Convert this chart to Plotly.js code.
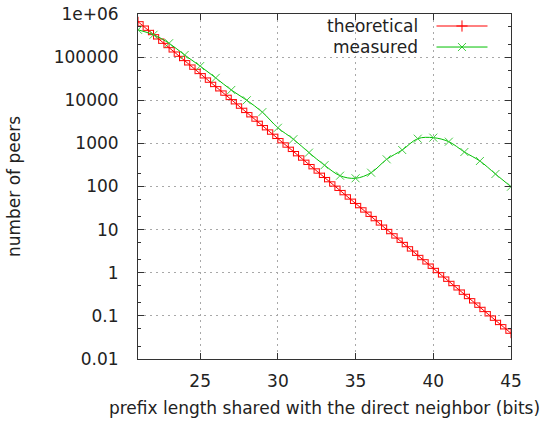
<!DOCTYPE html>
<html>
<head>
<meta charset="utf-8">
<script src="https://cdn.plot.ly/plotly-3.0.1.min.js"></script>
<style>html,body{margin:0;padding:0;background:#fff;}#chart{width:542px;height:422px;}</style>
</head>
<body>
<div id="chart"></div>
<script>
// Theoretical curve (sampled every 1/3 bit)
var theoX = [21,21.33,21.67,22,22.33,22.67,23,23.33,23.67,24,24.33,24.67,25,25.33,25.67,26,26.33,26.67,27,27.33,27.67,28,28.33,28.67,29,29.33,29.67,30,30.33,30.67,31,31.33,31.67,32,32.33,32.67,33,33.33,33.67,34,34.33,34.67,35,35.33,35.67,36,36.33,36.67,37,37.33,37.67,38,38.33,38.67,39,39.33,39.67,40,40.33,40.67,41,41.33,41.67,42,42.33,42.67,43,43.33,43.67,44,44.33,44.67,45];
var theoY = [663000,526224,417664,331500,263112,208832,165750,131556,104416,82875,65778,52208,41438,32889,26104,20719,16445,13052,10359,8222,6526,5180,4111,3263,2590,2056,1631,1295,1028,815.7,647.5,513.9,407.9,323.7,256.9,203.9,161.9,128.5,102.0,80.93,64.24,50.98,40.47,32.12,25.49,20.23,16.06,12.75,10.12,8.03,6.37,5.058,4.015,3.186,2.529,2.007,1.593,1.265,1.004,0.7966,0.6323,0.5019,0.3983,0.3162,0.2509,0.1992,0.1581,0.1255,0.0996,0.0790,0.0627,0.0498,0.0395];
// Measured values
var measX = [21,22,23,24,25,26,27,28,29,30,31,32,33,34,35,36,37,38,39,40,41,42,43,44,45];
var measY = [430000,330000,210000,112000,62000,33000,17300,10000,5300,2300,1250,610,312,178,155,209,427,702,1285,1356,1094,631,390,195,99];
// Axis ticks
var xTicks = [25,30,35,40,45];
var yTickVals = [1e6,1e5,1e4,1e3,100,10,1,0.1,0.01];
var yTickText = ["1e+06","100000","10000","1000","100","10","1","0.1","0.01"];
var yMinorVals = [0.02,0.05,0.2,0.5,2,5,20,50,200,500,2000,5000,20000,50000,200000,500000];
var seriesNames = ["theoretical","measured"];

var RED = "#ff0000", GREEN = "#00c000", LIGHTGREEN = "#44cc44", TXT = "#222222";

var traces = [
  {x: theoX, y: theoY, type: "scatter", mode: "lines+markers", name: seriesNames[0],
   line: {color: RED, width: 1}, marker: {symbol: "cross-thin", size: 7, line: {color: RED, width: 1}, color: RED},
   showlegend: false, hoverinfo: "x+y"},
  {x: measX, y: measY, type: "scatter", mode: "lines+markers", name: seriesNames[1],
   line: {color: GREEN, width: 1, shape: "spline", smoothing: 1}, marker: {symbol: "x-thin", size: 8, line: {color: LIGHTGREEN, width: 1}, color: GREEN},
   showlegend: false, hoverinfo: "x+y"},
  // legend key markers (paper-fraction overlay axes)
  {x: [0.8686], y: [0.9652], xaxis: "x2", yaxis: "y2", type: "scatter", mode: "markers",
   marker: {symbol: "cross-thin", size: 8, line: {color: RED, width: 1}}, showlegend: false, hoverinfo: "skip"},
  {x: [0.8686], y: [0.9043], xaxis: "x2", yaxis: "y2", type: "scatter", mode: "markers",
   marker: {symbol: "x-thin", size: 8, line: {color: LIGHTGREEN, width: 1}}, showlegend: false, hoverinfo: "skip"}
];

var axFont = {family: "DejaVu Sans, sans-serif", size: 17, color: TXT};
var layout = {
  width: 542, height: 422,
  margin: {l: 138, r: 31, t: 14, b: 63, pad: 0},
  paper_bgcolor: "#fff", plot_bgcolor: "#fff",
  font: axFont,
  showlegend: false,
  xaxis: {
    range: [21, 45], tickmode: "array", tickvals: xTicks, ticktext: xTicks.map(String),
    ticks: "inside", ticklen: 6, tickwidth: 1, tickcolor: "#333",
    showline: true, linecolor: "#333", linewidth: 1, mirror: "allticks",
    showgrid: true, gridcolor: "#a8a8a8", griddash: "2px,4px", gridwidth: 1,
    zeroline: false, tickfont: axFont, ticklabelstandoff: 7,
    title: {text: "prefix length shared with the direct neighbor (bits)", font: axFont, standoff: 11}
  },
  yaxis: {
    type: "log", range: [-2, 6], tickmode: "array", tickvals: yTickVals, ticktext: yTickText,
    ticks: "inside", ticklen: 6, tickwidth: 1, tickcolor: "#333",
    showline: true, linecolor: "#333", linewidth: 1, mirror: "allticks",
    showgrid: true, gridcolor: "#a8a8a8", griddash: "2px,4px", gridwidth: 1,
    zeroline: false, tickfont: axFont, ticklabelstandoff: 15,
    minor: {tickmode: "array", tickvals: yMinorVals, ticks: "inside", ticklen: 3, tickcolor: "#333", showgrid: false},
    title: {text: "number of peers", font: axFont, standoff: 28}
  },
  xaxis2: {overlaying: "x", range: [0, 1], visible: false, fixedrange: true},
  yaxis2: {overlaying: "y", range: [0, 1], visible: false, fixedrange: true},
  shapes: [
    {type: "rect", xref: "paper", yref: "paper", x0: 0.4209, x1: 0.997, y0: 0.876, y1: 0.997,
     fillcolor: "#fff", line: {width: 0}, layer: "between"},
    {type: "line", xref: "paper", yref: "paper", x0: 0.8003, x1: 0.9370, y0: 0.9652, y1: 0.9652, line: {color: RED, width: 1}},
    {type: "line", xref: "paper", yref: "paper", x0: 0.8003, x1: 0.9370, y0: 0.9043, y1: 0.9043, line: {color: GREEN, width: 1}}
  ],
  annotations: [
    {text: seriesNames[0], xref: "paper", yref: "paper", x: 0.7547, y: 0.9652, xanchor: "right", yanchor: "middle", showarrow: false, font: axFont},
    {text: seriesNames[1], xref: "paper", yref: "paper", x: 0.7547, y: 0.9043, xanchor: "right", yanchor: "middle", showarrow: false, font: axFont}
  ]
};

Plotly.newPlot("chart", traces, layout, {displayModeBar: false, staticPlot: true});
</script>
</body>
</html>
